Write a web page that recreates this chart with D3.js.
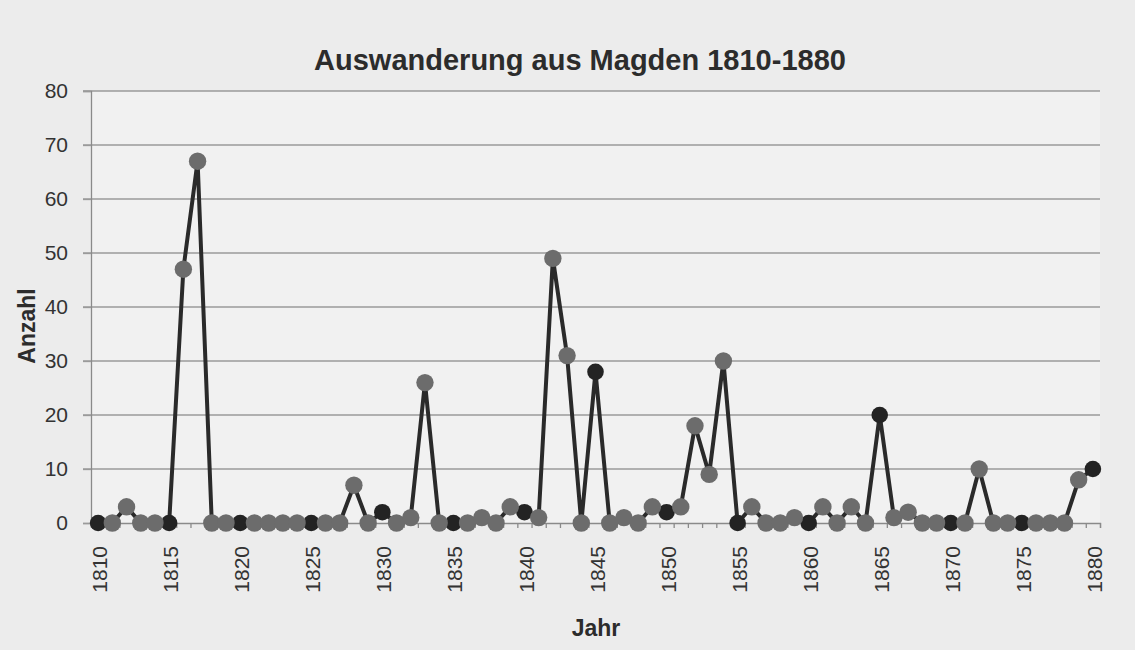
<!DOCTYPE html>
<html><head><meta charset="utf-8">
<script src="https://cdn.jsdelivr.net/npm/d3@7"></script>
<style>
html,body{margin:0;padding:0;background:#eeeeee;}
svg{display:block;font-family:"Liberation Sans",Arial,sans-serif;}
</style></head>
<body>
<svg id="c" width="1135" height="650"></svg>
<script>
const years = d3.range(1810, 1881);
const values = [
 0,0,3,0,0, 0,47,67,0,0,
 0,0,0,0,0, 0,0,0,7,0,
 2,0,1,26,0, 0,0,1,0,3,
 2,1,49,31,0, 28,0,1,0,3,
 2,3,18,9,30, 0,3,0,0,1,
 0,3,0,3,0, 20,1,2,0,0,
 0,0,10,0,0, 0,0,0,0,8,
 10];
const yTicks = [0,10,20,30,40,50,60,70,80];
const xLabelYears = [1810,1815,1820,1825,1830,1835,1840,1845,1850,1855,1860,1865,1870,1875,1880];
const title = "Auswanderung aus Magden 1810-1880";
const xTitle = "Jahr";
const yTitle = "Anzahl";

const data = years.map((y,i)=>({year:y, value:values[i]}));
const svg = d3.select("#c");
const L = 91, R = 1100, T = 91, B = 523;
const FF = "Liberation Sans, Arial, sans-serif";

svg.append("rect").attr("x",0).attr("y",0).attr("width",1135).attr("height",650).attr("fill","#ececec");
svg.append("rect").attr("x",L).attr("y",T).attr("width",R-L).attr("height",B-T).attr("fill","#f1f1f1");

const x = d3.scaleLinear().domain([1809.5, 1880.5]).range([L, R]);
const y = d3.scaleLinear().domain([0, 80]).range([B, T]);

// gridlines
svg.append("g").selectAll("line").data(yTicks.filter(d=>d>0)).join("line")
  .attr("x1", L-8).attr("x2", R).attr("y1", d=>y(d)).attr("y2", d=>y(d))
  .attr("stroke", "#9a9a9a").attr("stroke-width", 1.3);

// y axis labels
const ya = svg.append("g").attr("transform", `translate(${L},0)`)
  .call(d3.axisLeft(y).tickValues(yTicks).tickSize(8).tickPadding(15));
ya.select(".domain").attr("stroke","#8a8a8a").attr("stroke-width",1.3);
ya.selectAll(".tick line").attr("stroke","#9a9a9a").attr("stroke-width",1.3);
ya.selectAll("text").attr("font-size",21).attr("fill","#333").attr("font-family",FF);

// x axis with ticks at category boundaries
const xa = svg.append("g").attr("transform", `translate(0,${B})`)
  .call(d3.axisBottom(x).tickValues(d3.range(1809.5, 1881, 1)).tickSize(5).tickFormat(""));
xa.select(".domain").attr("stroke","#8a8a8a").attr("stroke-width",1.3);
xa.selectAll(".tick line").attr("stroke","#8a8a8a").attr("stroke-width",1.3);

// x labels
const xl = svg.append("g").attr("transform", `translate(0,${B})`)
  .call(d3.axisBottom(x).tickValues(xLabelYears).tickSize(0).tickFormat(d3.format("d")));
xl.select(".domain").remove();
xl.selectAll("text")
  .attr("font-size",21).attr("fill","#333").attr("font-family",FF)
  .attr("text-anchor","end").attr("transform","rotate(-90)")
  .attr("x",-23).attr("y",1).attr("dy","0.36em");

// line
svg.append("path").datum(data)
  .attr("d", d3.line().x(d=>x(d.year)).y(d=>y(d.value)))
  .attr("fill","none").attr("stroke","#2a2a2a").attr("stroke-width",4).attr("stroke-linejoin","round");

// dark markers (every 5 years) behind
svg.append("g").selectAll("circle").data(data.filter(d=>d.year%5===0)).join("circle")
  .attr("cx", d=>x(d.year)).attr("cy", d=>y(d.value)).attr("r", 8.3)
  .attr("fill","#232323");
// grey markers
svg.append("g").selectAll("circle").data(data.filter(d=>d.year%5!==0)).join("circle")
  .attr("cx", d=>x(d.year)).attr("cy", d=>y(d.value)).attr("r", 8.7)
  .attr("fill","#6c6c6c");

// titles
svg.append("text").attr("x",580).attr("y",70).attr("text-anchor","middle")
  .attr("font-size",29).attr("font-weight","bold").attr("fill","#2c2c2c").attr("font-family",FF).text(title);
svg.append("text").attr("x",596).attr("y",636).attr("text-anchor","middle")
  .attr("font-size",23).attr("font-weight","bold").attr("fill","#2c2c2c").attr("font-family",FF).text(xTitle);
svg.append("text").attr("transform","translate(35,326) rotate(-90)").attr("text-anchor","middle")
  .attr("font-size",23).attr("font-weight","bold").attr("fill","#2c2c2c").attr("font-family",FF).text(yTitle);
</script>
</body></html>
